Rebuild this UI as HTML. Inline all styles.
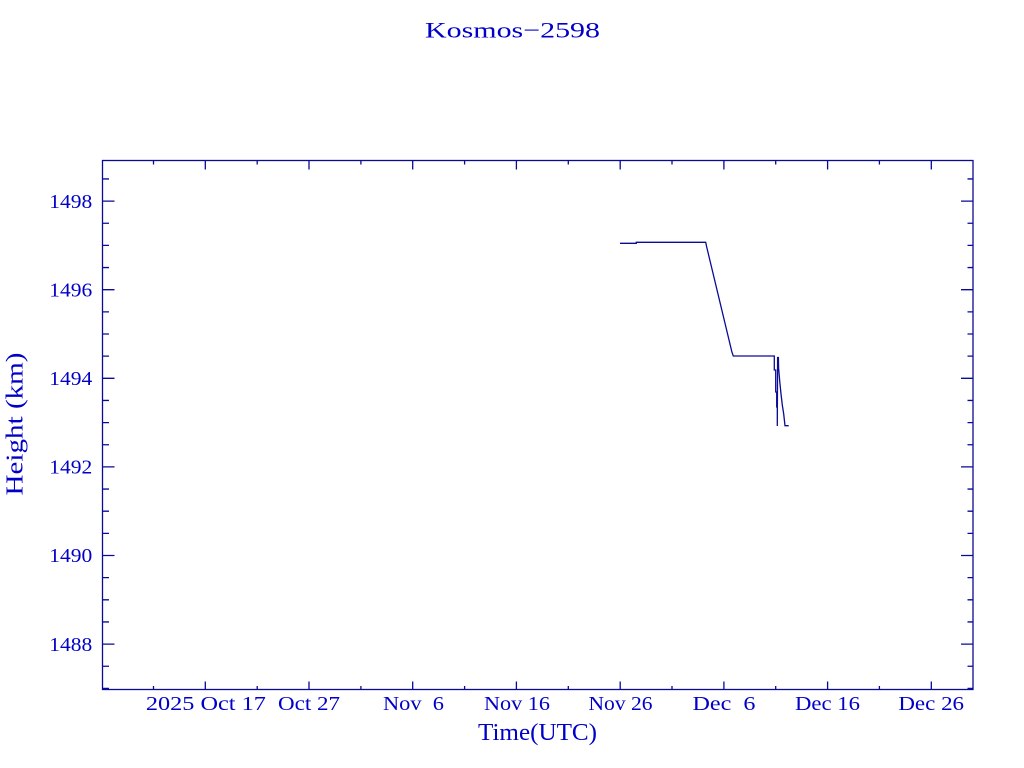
<!DOCTYPE html>
<html>
<head>
<meta charset="utf-8">
<style>
  html,body{margin:0;padding:0;background:#fff;}
  svg{display:block;}
  text{font-family:"Liberation Serif",serif;fill:#0000c8;white-space:pre;}
</style>
</head>
<body>
<svg width="1024" height="768" viewBox="0 0 1024 768" xmlns="http://www.w3.org/2000/svg">
  <rect width="1024" height="768" fill="#fff"/>

  <!-- Title -->
  <text x="425" y="37.3" font-size="22" textLength="175" lengthAdjust="spacingAndGlyphs">Kosmos−2598</text>

  <!-- Frame -->
  <rect x="102.5" y="160.5" width="870.5" height="529" fill="none" stroke="#0a0a96" stroke-width="1.3"/>

  <g stroke="#0a0a96" stroke-width="1.3" fill="none">
    <!-- Y major ticks (left & right) -->
    <path d="M102.5,201.1h12 M102.5,289.7h12 M102.5,378.3h12 M102.5,466.9h12 M102.5,555.5h12 M102.5,644.1h12
             M973,201.1h-12 M973,289.7h-12 M973,378.3h-12 M973,466.9h-12 M973,555.5h-12 M973,644.1h-12"/>
    <!-- Y minor ticks -->
    <path d="M102.5,178.95h6.5 M102.5,223.25h6.5 M102.5,245.4h6.5 M102.5,267.55h6.5 M102.5,311.85h6.5 M102.5,334h6.5 M102.5,356.15h6.5
             M102.5,400.45h6.5 M102.5,422.6h6.5 M102.5,444.75h6.5 M102.5,489.05h6.5 M102.5,511.2h6.5 M102.5,533.35h6.5
             M102.5,577.65h6.5 M102.5,599.8h6.5 M102.5,621.95h6.5 M102.5,666.25h6.5 M102.5,688.4h6.5
             M973,178.95h-5.5 M973,223.25h-5.5 M973,245.4h-5.5 M973,267.55h-5.5 M973,311.85h-5.5 M973,334h-5.5 M973,356.15h-5.5
             M973,400.45h-5.5 M973,422.6h-5.5 M973,444.75h-5.5 M973,489.05h-5.5 M973,511.2h-5.5 M973,533.35h-5.5
             M973,577.65h-5.5 M973,599.8h-5.5 M973,621.95h-5.5 M973,666.25h-5.5 M973,688.4h-5.5"/>
    <!-- X major ticks (bottom & top) -->
    <path d="M205.3,689.5v-8 M309,689.5v-8 M412.7,689.5v-8 M516.4,689.5v-8 M620.2,689.5v-8 M723.9,689.5v-8 M827.6,689.5v-8 M931.3,689.5v-8
             M205.3,160.5v9 M309,160.5v9 M412.7,160.5v9 M516.4,160.5v9 M620.2,160.5v9 M723.9,160.5v9 M827.6,160.5v9 M931.3,160.5v9"/>
    <!-- X minor ticks -->
    <path d="M153.5,689.5v-3.5 M257.2,689.5v-3.5 M360.9,689.5v-3.5 M464.6,689.5v-3.5 M568.3,689.5v-3.5 M672,689.5v-3.5 M775.7,689.5v-3.5 M879.4,689.5v-3.5
             M153.5,160.5v4 M257.2,160.5v4 M360.9,160.5v4 M464.6,160.5v4 M568.3,160.5v4 M672,160.5v4 M775.7,160.5v4 M879.4,160.5v4"/>
  </g>

  <!-- Y tick labels -->
  <g font-size="20" text-anchor="end">
    <text x="92.3" y="207.8" textLength="43" lengthAdjust="spacingAndGlyphs">1498</text>
    <text x="92.3" y="296.4" textLength="43" lengthAdjust="spacingAndGlyphs">1496</text>
    <text x="92.3" y="385" textLength="43" lengthAdjust="spacingAndGlyphs">1494</text>
    <text x="92.3" y="473.6" textLength="43" lengthAdjust="spacingAndGlyphs">1492</text>
    <text x="92.3" y="562.2" textLength="43" lengthAdjust="spacingAndGlyphs">1490</text>
    <text x="92.3" y="650.8" textLength="43" lengthAdjust="spacingAndGlyphs">1488</text>
  </g>

  <!-- X tick labels -->
  <g font-size="20" text-anchor="middle">
    <text x="205.9" y="710" textLength="120" lengthAdjust="spacingAndGlyphs">2025 Oct 17</text>
    <text x="309" y="710" textLength="62" lengthAdjust="spacingAndGlyphs">Oct 27</text>
    <text x="413.5" y="710" textLength="61" lengthAdjust="spacingAndGlyphs">Nov  6</text>
    <text x="517" y="710" textLength="66" lengthAdjust="spacingAndGlyphs">Nov 16</text>
    <text x="620.5" y="710" textLength="64" lengthAdjust="spacingAndGlyphs">Nov 26</text>
    <text x="724" y="710" textLength="63" lengthAdjust="spacingAndGlyphs">Dec  6</text>
    <text x="827.5" y="710" textLength="65" lengthAdjust="spacingAndGlyphs">Dec 16</text>
    <text x="931.2" y="710" textLength="65.7" lengthAdjust="spacingAndGlyphs">Dec 26</text>
  </g>

  <!-- Axis titles -->
  <text x="478" y="740" font-size="24" textLength="119" lengthAdjust="spacingAndGlyphs">Time(UTC)</text>
  <text transform="translate(22.5,424) rotate(-90)" font-size="24" text-anchor="middle" textLength="143" lengthAdjust="spacingAndGlyphs">Height (km)</text>

  <!-- Data -->
  <path fill="none" stroke="#0a0a96" stroke-width="1.3" stroke-linejoin="miter"
        d="M620,243.3 L636.3,243.3 L636.3,242.3 L705.7,242.3
           L706.7,247 L707.9,252 L709.1,257 L710.3,262 L711.5,267 L712.7,272 L713.9,277 L715.1,282 L716.3,287
           L717.5,292 L718.7,297 L719.9,302 L721.1,307 L722.3,312 L723.5,317 L724.7,322 L725.9,327 L727.1,332
           L728.3,337 L729.5,342 L730.7,347 L731.9,352 L733.3,356
           L774.3,356 L774.3,370 L775.7,370 L775.7,392 L776.7,392 L776.7,407 L777.3,407 L777.3,426
           L777.6,357.5 L778.4,357.5 L778.6,368 L779.7,381 L781,394 L782.3,405 L783.7,414 L785,425.7 L788.7,425.7"/>
</svg>
</body>
</html>
